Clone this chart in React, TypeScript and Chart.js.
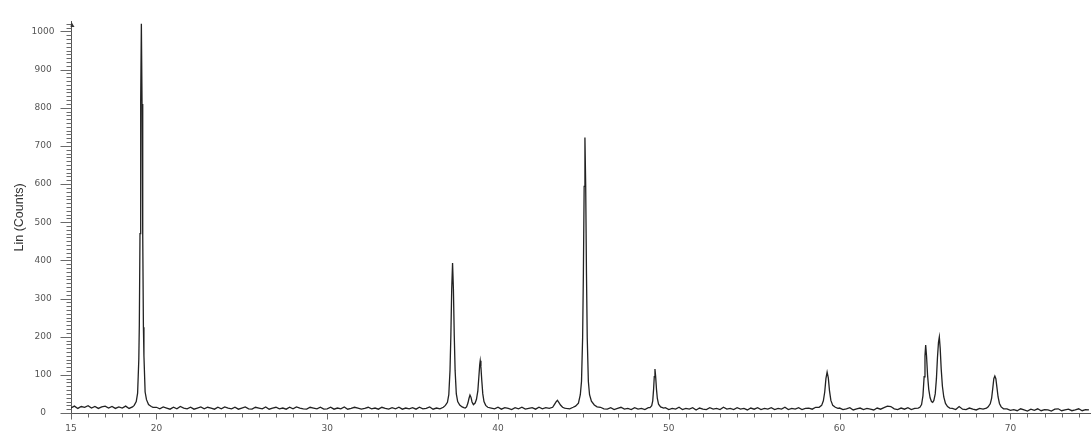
import React, { useEffect, useRef } from "react";
import { Chart, registerables } from "chart.js";

Chart.register(...registerables);

// 2θ positions (degrees) of the scan points
const twoTheta: number[] = [
  15.0, 15.2, 15.4, 15.6, 15.8, 16.0, 16.2, 16.4, 16.6, 16.8,
  17.0, 17.2, 17.4, 17.6, 17.8, 18.0, 18.2, 18.4, 18.6,
  18.7, 18.82, 18.9, 18.97, 19.0, 19.04, 19.08, 19.12, 19.16, 19.2, 19.24, 19.27, 19.34, 19.42, 19.54, 19.7, 19.8,
  20.0, 20.2, 20.4, 20.6, 20.8, 21.0, 21.2, 21.4, 21.6, 21.8,
  22.0, 22.2, 22.4, 22.6, 22.8, 23.0, 23.2, 23.4, 23.6, 23.8,
  24.0, 24.2, 24.4, 24.6, 24.8,
  25.0, 25.2, 25.4, 25.6, 25.8, 26.0, 26.2, 26.4, 26.6, 26.8,
  27.0, 27.2, 27.4, 27.6, 27.8, 28.0, 28.2, 28.4, 28.6, 28.8,
  29.0, 29.2, 29.4, 29.6, 29.8,
  30.0, 30.2, 30.4, 30.6, 30.8, 31.0, 31.2, 31.4, 31.6, 31.8,
  32.0, 32.2, 32.4, 32.6, 32.8, 33.0, 33.2, 33.4, 33.6, 33.8,
  34.0, 34.2, 34.4, 34.6, 34.8,
  35.0, 35.2, 35.4, 35.6, 35.8, 36.0, 36.2, 36.4, 36.6, 36.8,
  36.92, 37.04, 37.12, 37.19, 37.24, 37.29, 37.34, 37.39, 37.44, 37.49, 37.56, 37.64, 37.76, 37.9, 38.0, 38.08,
  38.16, 38.24, 38.3, 38.36, 38.42, 38.48, 38.56, 38.66, 38.74, 38.82, 38.88, 38.93, 38.96, 39.0, 39.05, 39.11, 39.18, 39.28, 39.4, 39.6,
  39.8, 40.0, 40.2, 40.4, 40.6, 40.8, 41.0, 41.2, 41.4, 41.6, 41.8, 42.0, 42.2, 42.4, 42.6, 42.8, 43.0,
  43.2, 43.3, 43.4, 43.48, 43.56, 43.66, 43.78, 43.9, 44.0, 44.2, 44.4,
  44.54, 44.71, 44.82, 44.89, 44.955, 45.0, 45.045, 45.09, 45.135, 45.18, 45.225, 45.29, 45.36, 45.47, 45.64, 45.8,
  46.0, 46.2, 46.4, 46.6, 46.8, 47.0, 47.2, 47.4, 47.6, 47.8, 48.0, 48.2, 48.4, 48.6, 48.8,
  48.9, 49.0, 49.06, 49.11, 49.15, 49.19, 49.23, 49.28, 49.33, 49.4, 49.52, 49.7,
  49.8, 50.0, 50.2, 50.4, 50.6, 50.8, 51.0, 51.2, 51.4, 51.6,
  51.8, 52.0, 52.2, 52.4, 52.6, 52.8, 53.0, 53.2, 53.4, 53.6,
  53.8, 54.0, 54.2, 54.4, 54.6, 54.8, 55.0, 55.2, 55.4, 55.6,
  55.8, 56.0, 56.2, 56.4, 56.6, 56.8, 57.0, 57.2, 57.4, 57.6,
  57.8, 58.0, 58.2, 58.4, 58.6,
  58.8, 58.95, 59.05, 59.13, 59.2, 59.27, 59.34, 59.41, 59.49, 59.6, 59.75, 59.9,
  60.0, 60.2, 60.4, 60.6, 60.8, 61.0, 61.2, 61.4, 61.6, 61.8,
  62.0, 62.2, 62.4, 62.6, 62.8, 63.0, 63.2, 63.4, 63.6, 63.8,
  64.0, 64.2, 64.4, 64.6,
  64.7, 64.8, 64.88, 64.95, 65.0, 65.04, 65.09, 65.15, 65.22, 65.3, 65.38, 65.45, 65.52,
  65.6, 65.67, 65.73, 65.79, 65.84, 65.89, 65.95, 66.02, 66.1, 66.2, 66.32, 66.45,
  66.6, 66.8, 67.0, 67.2, 67.4, 67.6, 67.8, 68.0, 68.2, 68.4, 68.6,
  68.7, 68.82, 68.9, 68.97, 69.03, 69.09, 69.15, 69.21, 69.28, 69.36, 69.46, 69.6,
  69.8, 70.0, 70.2, 70.4, 70.6, 70.8, 71.0, 71.2, 71.4, 71.6,
  71.8, 72.0, 72.2, 72.4, 72.6, 72.8, 73.0, 73.2, 73.4, 73.6,
  73.8, 74.0, 74.2, 74.4, 74.6,
];

// Intensity (Lin counts) at each 2θ position
const counts: number[] = [
  13, 18, 12, 17, 15, 19, 13, 17, 12, 16,
  18, 13, 17, 12, 16, 13, 18, 12, 16,
  20, 30, 52, 140, 230, 470, 815, 1020, 810, 465, 225, 150, 55, 35, 22, 17, 15,
  15, 11, 16, 13, 10, 15, 11, 17, 13, 11,
  15, 10, 13, 16, 11, 15, 13, 10, 15, 11,
  16, 13, 11, 15, 10,
  13, 16, 11, 10, 15, 13, 11, 16, 10, 13,
  15, 11, 13, 10, 15, 11, 16, 13, 11, 10,
  15, 13, 11, 15, 10,
  11, 15, 10, 13, 11, 16, 10, 12, 15, 13,
  10, 12, 15, 11, 13, 10, 15, 12, 10, 14,
  11, 15, 10, 13, 11,
  14, 10, 15, 11, 12, 16, 10, 13, 11, 15,
  20, 28, 48, 111, 202, 324, 393, 324, 202, 111, 50, 30, 21, 16, 14, 13,
  16, 26, 38, 47, 41, 29, 22, 26, 36, 58, 95, 126, 137, 121, 86, 50, 30, 20, 15, 13,
  11, 15, 10, 14, 12, 9, 14, 11, 15, 10, 12, 14, 10, 15, 11, 14, 12,
  15, 22, 29, 33, 28, 21, 15, 13, 12, 11, 15,
  18, 26, 48, 83, 197, 367, 594, 722, 594, 367, 197, 83, 48, 31, 21, 16,
  15, 11, 10, 14, 9, 12, 15, 10, 12, 9, 14, 10, 12, 9, 14,
  14, 19, 32, 62, 95, 115, 96, 62, 38, 23, 16, 13,
  14, 9, 12, 10, 15, 9, 12, 10, 14, 8,
  13, 10, 9, 14, 10, 12, 9, 15, 10, 12,
  9, 14, 10, 12, 8, 13, 10, 14, 9, 12,
  10, 14, 9, 12, 10, 15, 9, 12, 10, 14,
  9, 12, 13, 10, 15,
  15, 20, 32, 55, 90, 107, 92, 58, 33, 20, 15, 12,
  13, 9, 11, 14, 8, 11, 13, 9, 12, 10,
  8, 13, 10, 14, 18, 17, 11, 9, 13, 10,
  14, 9, 12, 13,
  15, 22, 45, 95, 150, 178, 150, 100, 62, 40, 30, 28, 33,
  50, 90, 145, 185, 199, 170, 115, 70, 42, 25, 17, 13,
  12, 9, 17, 10, 9, 13, 10, 8, 12, 10, 13,
  16, 24, 38, 65, 90, 97, 90, 68, 42, 25, 16, 11,
  11, 7, 9, 6, 11, 8, 5, 10, 7, 11,
  6, 9, 8, 5, 10, 11, 6, 8, 10, 6,
  8, 11, 6, 9, 8,
];

const xTickLabels: number[] = [15, 20, 30, 40, 50, 60, 70];
const yTickLabels: number[] = [0, 100, 200, 300, 400, 500, 600, 700, 800, 900, 1000];
const yAxisTitle = "Lin (Counts)";

const X_MIN = 15;
const X_MAX = 74.72;
const Y_MIN = 0;
const Y_MAX = 1025;

const rulerPlugin = {
  id: "rulerTicks",
  afterDraw(chart: any) {
    const { ctx, scales } = chart;
    const x = scales.x;
    const y = scales.y;
    const axX = Math.round(x.left) + 0.5;
    const axY = Math.round(y.bottom) + 0.5;
    ctx.save();
    ctx.strokeStyle = "#6a6a6a";
    ctx.lineWidth = 1;
    ctx.beginPath();
    for (let v = 0; v <= 1020; v += 10) {
      const py = Math.round(y.getPixelForValue(v)) + 0.5;
      const len = v % 100 === 0 ? 11 : 5;
      ctx.moveTo(axX - len, py);
      ctx.lineTo(axX, py);
    }
    for (let v = 15; v <= 74; v += 1) {
      const px = Math.round(x.getPixelForValue(v)) + 0.5;
      const len = v % 10 === 0 || v === 15 ? 6 : 4;
      ctx.moveTo(px, axY);
      ctx.lineTo(px, axY + len);
    }
    ctx.stroke();
    // small arrow head at the top of the y axis
    ctx.fillStyle = "#333";
    ctx.beginPath();
    ctx.moveTo(axX, y.top);
    ctx.lineTo(axX + 3, y.top + 5);
    ctx.lineTo(axX - 1, y.top + 5);
    ctx.closePath();
    ctx.fill();
    ctx.restore();
  },
};

export default function App() {
  const canvasRef = useRef<HTMLCanvasElement | null>(null);

  useEffect(() => {
    document.body.style.margin = "0";
    const canvas = canvasRef.current;
    if (!canvas) return;
    const points = twoTheta.map((t, i) => ({ x: t, y: counts[i] }));
    const chart = new Chart(canvas, {
      type: "line",
      data: {
        datasets: [
          {
            data: points,
            borderColor: "#222222",
            borderWidth: 1.3,
            pointRadius: 0,
            tension: 0,
            fill: false,
          },
        ],
      },
      options: {
        animation: false,
        responsive: false,
        devicePixelRatio: 1,
        layout: { padding: { top: 13, left: 0, right: 0, bottom: 0 } },
        plugins: { legend: { display: false }, tooltip: { enabled: false } },
        scales: {
          x: {
            type: "linear",
            min: X_MIN,
            max: X_MAX,
            afterFit(scale: any) {
              scale.height = 23;
            },
            grid: { display: false, drawTicks: false },
            border: { display: true, color: "#555", width: 1 },
            ticks: {
              stepSize: 1,
              autoSkip: false,
              maxRotation: 0,
              includeBounds: false,
              padding: 10,
              color: "#555",
              font: { family: "DejaVu Sans", size: 9 },
              callback: (value: any) =>
                xTickLabels.includes(Number(value)) ? String(value) : "",
            },
          },
          y: {
            type: "linear",
            min: Y_MIN,
            max: Y_MAX,
            afterFit(scale: any) {
              scale.width = 71;
            },
            grid: { display: false, drawTicks: false },
            border: { display: true, color: "#555", width: 1 },
            title: {
              display: true,
              text: yAxisTitle,
              color: "#333",
              font: { family: "Liberation Sans", size: 12.5 },
              padding: { top: 12, bottom: 0 },
            },
            ticks: {
              stepSize: 100,
              includeBounds: false,
              crossAlign: "center",
              padding: 16.5,
              color: "#555",
              font: { family: "DejaVu Sans", size: 9 },
              callback: (value: any) =>
                yTickLabels.includes(Number(value)) ? String(value) : "",
            },
          },
        },
      },
      plugins: [rulerPlugin],
    } as any);
    return () => chart.destroy();
  }, []);

  return (
    <div style={{ width: 1091, height: 436, overflow: "hidden", background: "#fff" }}>
      <canvas ref={canvasRef} width={1091} height={436} style={{ display: "block" }} />
    </div>
  );
}
